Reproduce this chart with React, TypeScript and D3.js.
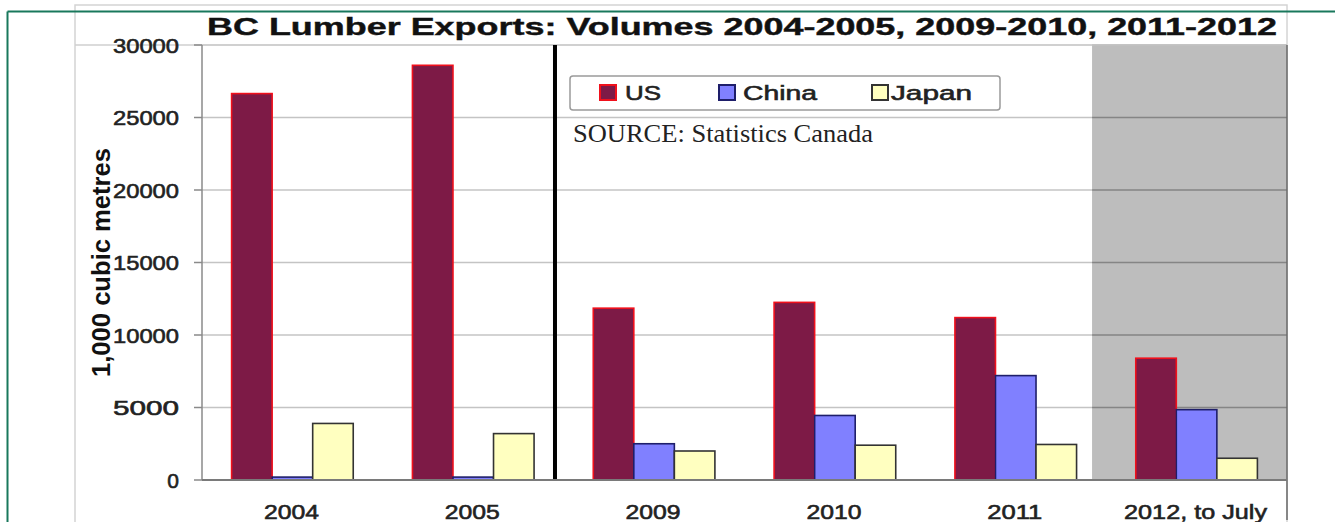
import React from "react";
import * as d3 from "d3";

const categories = ["2004", "2005", "2009", "2010", "2011", "2012, to July"];
const seriesNames = ["US", "China", "Japan"];
const usValues = [26650, 28600, 11850, 12250, 11200, 8400];
const chinaValues = [200, 200, 2500, 4450, 7200, 4850];
const japanValues = [3900, 3200, 2000, 2400, 2450, 1500];
const yTicks = [0, 5000, 10000, 15000, 20000, 25000, 30000];
const titleText = "BC Lumber Exports: Volumes 2004-2005, 2009-2010, 2011-2012";
const yLabel = "1,000 cubic metres";
const sourceText = "SOURCE: Statistics Canada";

const W = 1335;
const H = 522;
const plot = { left: 202, right: 1287, top: 45, bottom: 480 };

const fills = { US: "#7d1a46", China: "#8080ff", Japan: "#ffffc0" };
const strokes = { US: "#f0101c", China: "#1e1e6a", Japan: "#333333" };

export default function App() {
  const x = d3.scaleBand<string>().domain(categories).range([plot.left, plot.right]).padding(0);
  const xs = d3.scaleBand<string>().domain(seriesNames).range([0, x.bandwidth()]).paddingInner(0).paddingOuter(0.73);
  const y = d3.scaleLinear().domain([0, 30000]).range([plot.bottom, plot.top]);
  const valuesBy: Record<string, number[]> = { US: usValues, China: chinaValues, Japan: japanValues };
  const bw = x.bandwidth();
  const dividerX = (x("2009") as number) - bw * 0.048;
  const shadeX = (x("2012, to July") as number) - bw * 0.078;

  const legendItems = [
    { name: "US", sx: 600, tx: 625, tl: 36 },
    { name: "China", sx: 719, tx: 743, tl: 74 },
    { name: "Japan", sx: 872, tx: 891, tl: 81 },
  ];

  const thick = { stroke: "#222", strokeWidth: 0.6 };

  return (
    <svg width={W} height={H} style={{ position: "absolute", left: 0, top: 0, background: "#fff" }} fontFamily="'Liberation Sans', Arial, sans-serif">
      {/* image frame */}
      <rect x={75} y={5} width={1212} height={H} fill="#fff" stroke="#d4d4d4" strokeWidth={1.5} />
      {/* gray shaded area */}
      <rect x={shadeX} y={plot.top} width={plot.right - shadeX} height={plot.bottom - plot.top} fill="#bdbdbd" />
      {/* gridlines */}
      {yTicks.filter((t) => t > 0).map((t) => (
        <g key={"g" + t}>
          <line x1={plot.left} x2={shadeX} y1={y(t)} y2={y(t)} stroke="#c4c4c4" strokeWidth={1.5} />
          <line x1={shadeX} x2={plot.right} y1={y(t)} y2={y(t)} stroke="#858585" strokeWidth={1.5} />
        </g>
      ))}
      {/* plot top line */}
      <line x1={75} x2={plot.right} y1={plot.top} y2={plot.top} stroke="#cfcfcf" strokeWidth={1.5} />
      {/* bars */}
      {categories.map((c, i) => (
        <g key={c} transform={`translate(${x(c)},0)`}>
          {seriesNames.map((s) => {
            const v = valuesBy[s][i];
            return (
              <rect
                key={s}
                x={xs(s)}
                y={y(v)}
                width={xs.bandwidth()}
                height={y(0) - y(v)}
                fill={(fills as any)[s]}
                stroke={(strokes as any)[s]}
                strokeWidth={1.6}
              />
            );
          })}
        </g>
      ))}
      {/* divider */}
      <line x1={dividerX} x2={dividerX} y1={plot.top} y2={plot.bottom} stroke="#000" strokeWidth={4} />
      {/* axes */}
      <line x1={plot.left} x2={plot.left} y1={plot.top} y2={plot.bottom} stroke="#8a8a8a" strokeWidth={1.5} />
      <line x1={plot.right} x2={plot.right} y1={plot.top} y2={plot.bottom + 40} stroke="#6a6a6a" strokeWidth={1.5} />
      <line x1={plot.left} x2={plot.right} y1={plot.bottom} y2={plot.bottom} stroke="#7a7a7a" strokeWidth={2} />
      {yTicks.map((t) => (
        <g key={"t" + t}>
          <line x1={plot.left - 8} x2={plot.left} y1={y(t)} y2={y(t)} stroke="#8a8a8a" strokeWidth={1.5} />
          <text
            x={179}
            y={y(t) + 7.5}
            textAnchor="end"
            fontSize={21}
            fill="#222"
            {...thick}
            {...(t > 0 ? { textLength: 66, lengthAdjust: "spacingAndGlyphs" } : {})}
          >
            {t}
          </text>
        </g>
      ))}
      {categories.map((c) => {
        const cx = (x(c) as number) + bw / 2 - 1;
        const tl = c.length === 4 ? 55 : 143;
        return (
          <text key={"x" + c} x={cx - tl / 2} y={519} fontSize={21} fill="#222" {...thick} textLength={tl} lengthAdjust="spacingAndGlyphs">
            {c}
          </text>
        );
      })}
      {/* y label */}
      <text
        transform={`translate(110,${(148 + 377) / 2}) rotate(-90)`}
        textAnchor="middle"
        fontSize={25}
        fontWeight="bold"
        fill="#111"
        textLength={229}
        lengthAdjust="spacingAndGlyphs"
      >
        {yLabel}
      </text>
      {/* title */}
      <text x={207} y={35} fontSize={24} fontWeight="bold" fill="#111" stroke="#111" strokeWidth={0.4} textLength={1070} lengthAdjust="spacingAndGlyphs">
        {titleText}
      </text>
      {/* legend */}
      <rect x={570} y={76} width={430} height={34} rx={3} fill="#fff" stroke="#9a9a9a" strokeWidth={1.5} />
      {legendItems.map((it) => (
        <g key={it.name}>
          <rect x={it.sx} y={85} width={16} height={15} fill={(fills as any)[it.name]} stroke={(strokes as any)[it.name]} strokeWidth={2} />
          <text x={it.tx} y={100} fontSize={21} fill="#222" {...thick} textLength={it.tl} lengthAdjust="spacingAndGlyphs">
            {it.name}
          </text>
        </g>
      ))}
      {/* source */}
      <text x={573} y={142} fontFamily="'Liberation Serif', 'Times New Roman', serif" fontSize={25} fill="#222" textLength={300} lengthAdjust="spacingAndGlyphs">
        {sourceText}
      </text>
      {/* green frame */}
      <line x1={7.5} x2={W} y1={11.5} y2={11.5} stroke="#19785c" strokeWidth={2} />
      <line x1={7.5} x2={7.5} y1={11.5} y2={H} stroke="#19785c" strokeWidth={2} />
    </svg>
  );
}
